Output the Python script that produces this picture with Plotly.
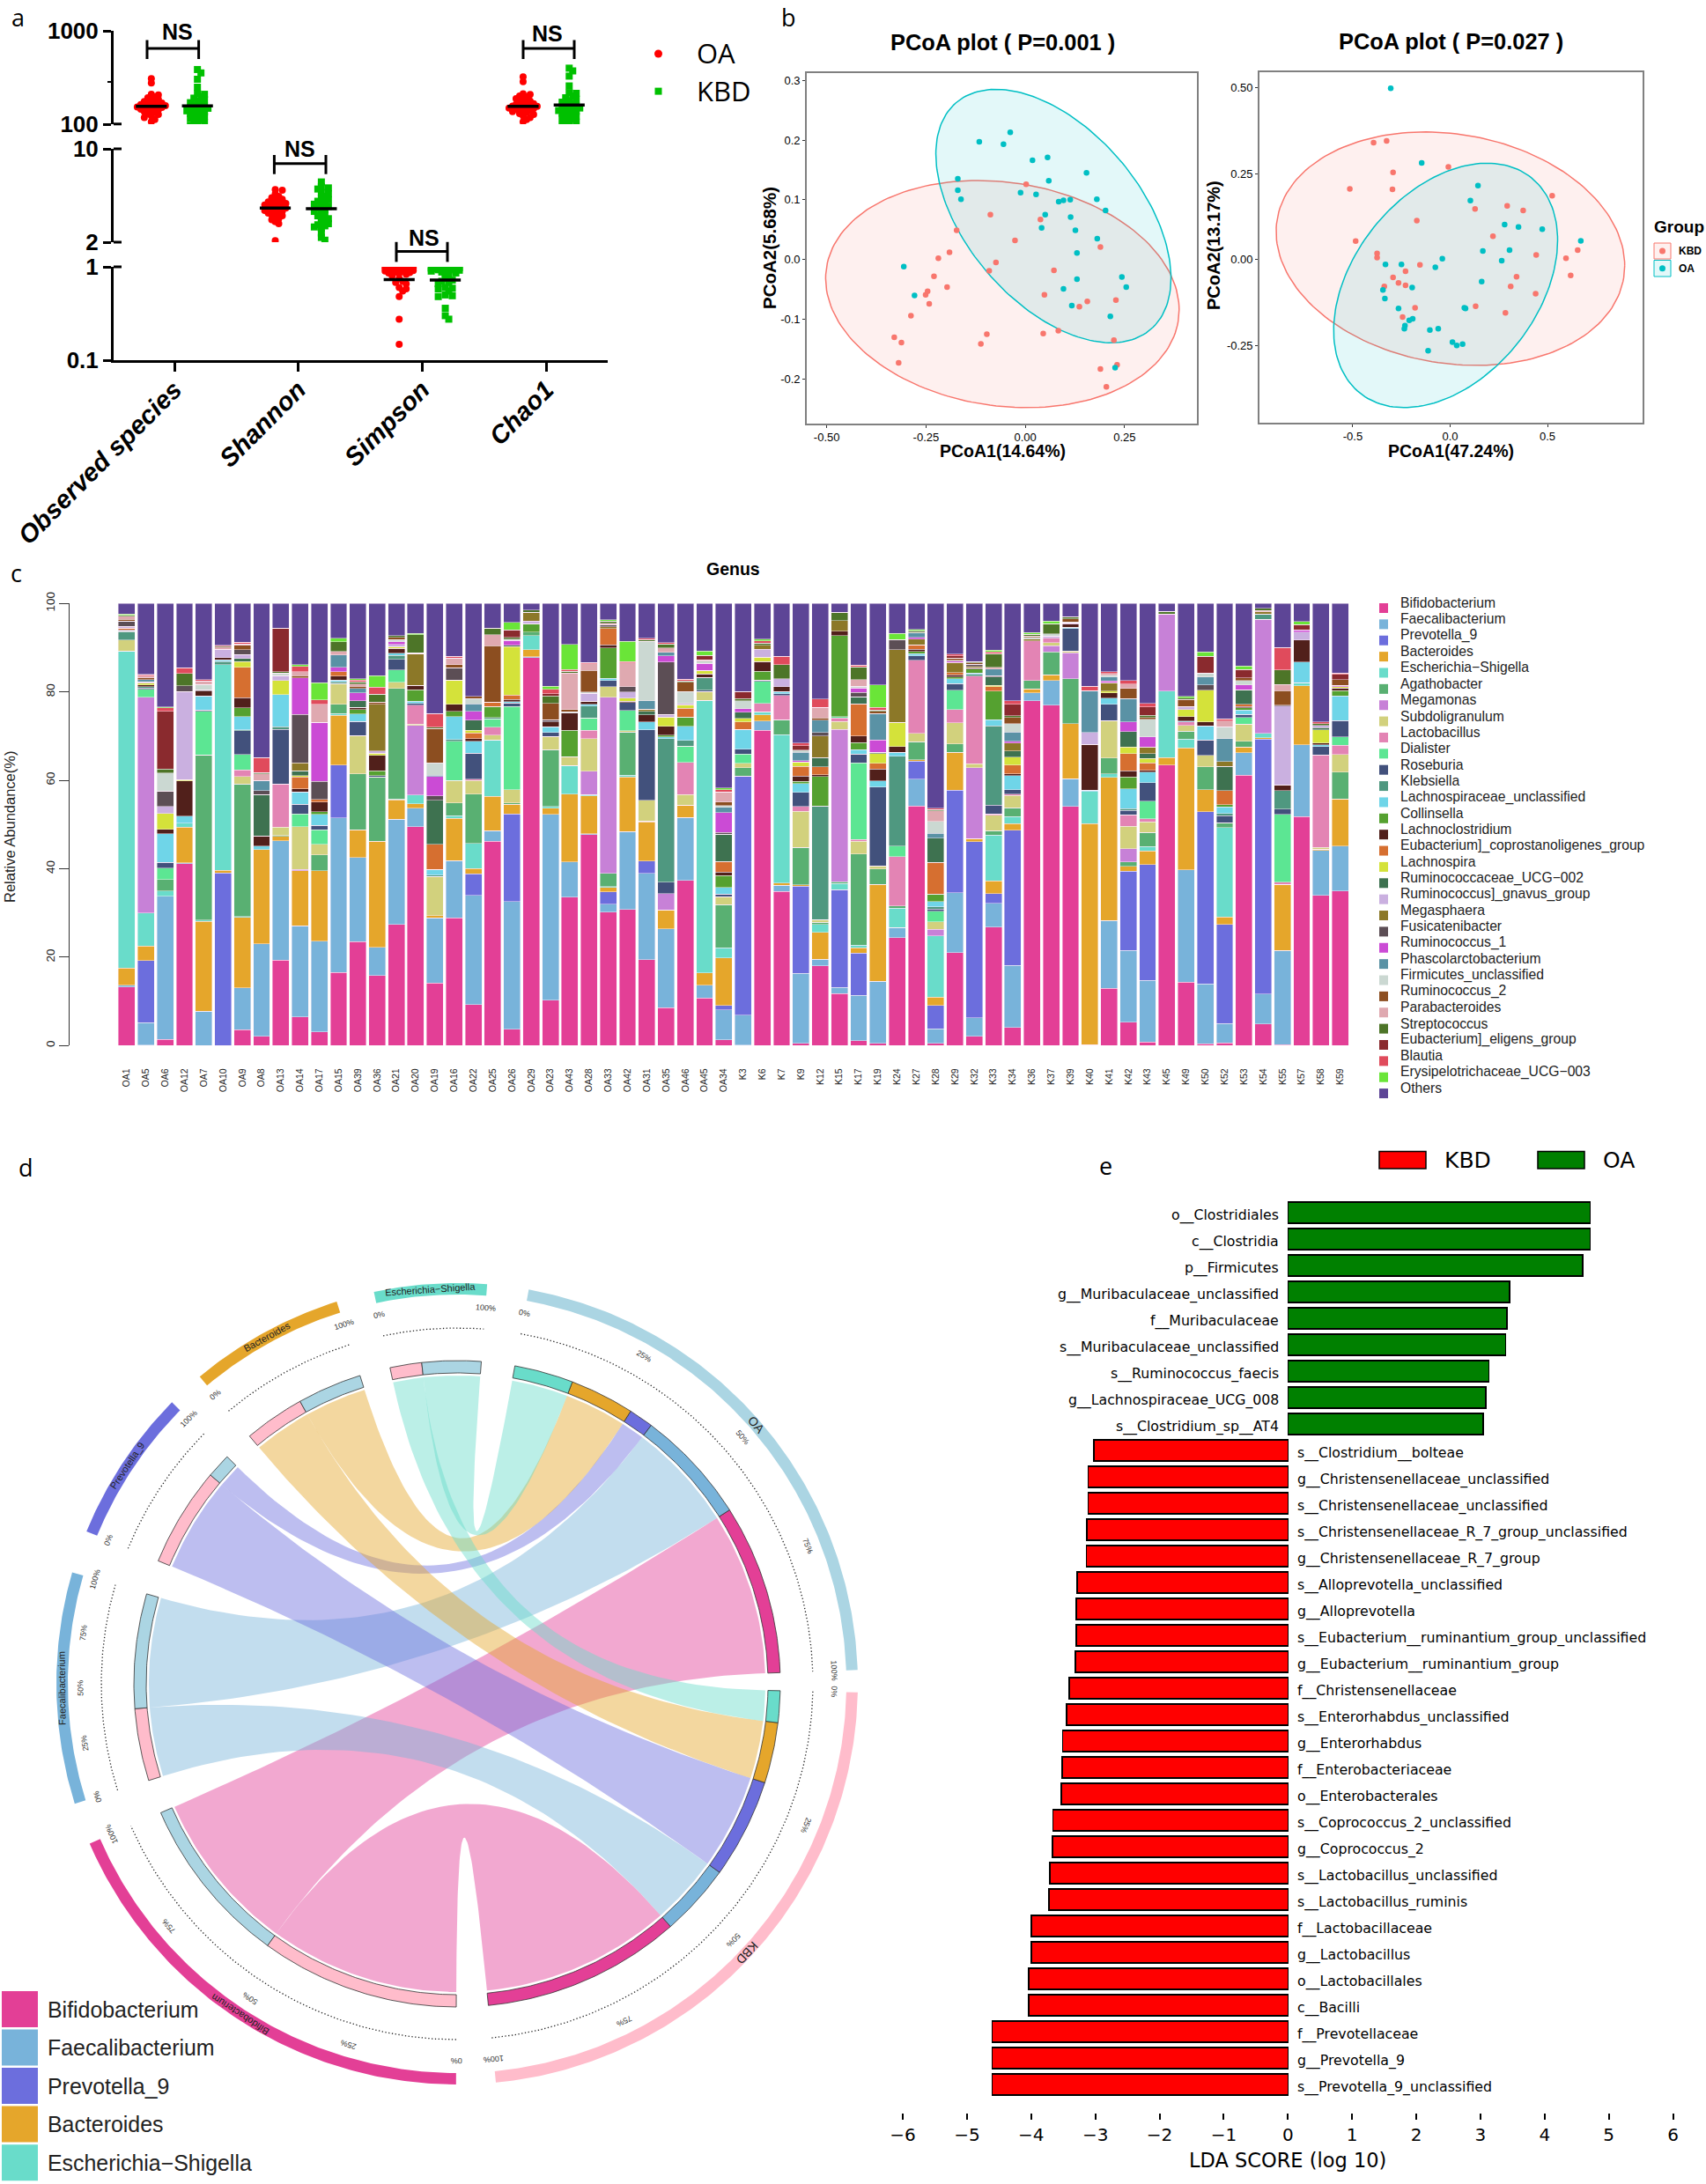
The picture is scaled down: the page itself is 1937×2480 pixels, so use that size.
import numpy as np
import plotly.graph_objects as go

W, H = 1937, 2480
SANS = "Liberation Sans"
DEJA = "DejaVu Sans"

# ---------- panel a values ----------
ALPHA_CATS = ["Observed species", "Shannon", "Simpson", "Chao1"]
OA_OBS = [308,276,209,206,196,192,185,180,175,172,168,165,162,160,158,156,155,153,151,149,147,145,142,139,136,133,130,127,123,118,112,106]
KBD_OBS = [385,354,303,249,213,209,197,190,183,176,170,165,160,156,153,150,148,145,142,139,136,133,130,127,124,121,118,115,112,108,104,100,97]
OA_SHA = [4.95,4.9,4.6,4.4,4.3,4.2,4.1,4.0,3.95,3.9,3.85,3.8,3.75,3.7,3.65,3.6,3.55,3.5,3.45,3.4,3.35,3.3,3.25,3.2,3.15,3.1,3.0,2.95,2.85,2.75,2.05]
KBD_SHA = [5.65,5.2,5.1,5.0,4.7,4.6,4.4,4.25,4.15,4.05,3.95,3.85,3.8,3.7,3.6,3.5,3.4,3.35,3.25,3.15,3.05,3.0,2.9,2.8,2.75,2.7,2.65,2.6,2.55,2.34,2.17,2.07]
OA_SIM = [.99,.98,.98,.97,.97,.96,.96,.95,.95,.94,.93,.92,.91,.9,.89,.88,.87,.86,.85,.83,.8,.75,.7,.68,.66,.6,.58,.55,.48,.275,.148]
KBD_SIM = [.99,.99,.98,.98,.97,.97,.96,.96,.95,.95,.94,.93,.92,.91,.9,.88,.86,.84,.8,.75,.72,.7,.68,.66,.6,.59,.58,.55,.5,.49,.48,.36,.3,.275]
OA_CHA = [322,285,212,208,200,195,188,182,177,173,169,166,163,160,158,156,155,153,151,149,147,145,142,139,136,133,130,127,123,118,112,106]
KBD_CHA = [398,372,327,257,218,214,200,192,185,178,172,167,162,158,155,152,149,146,143,140,137,134,131,128,125,122,119,116,113,109,105,101,98]
MID_OA = [155, 3.6, 0.73, 155]
MID_KBD = [157, 3.56, 0.72, 160]

# ---------- panel b values ----------
L_OA_X = [-.306,-.279,-.170,-.170,-.162,-.116,-.055,-.038,-.012,.018,.027,.056,.059,.084,.096,.113,.154,.180,.202,.050,.114,.041,.126,.181,.130,.243,.254,.130,.096,.117,.214,.226]
L_OA_Y = [-.012,-.060,.135,.116,.101,.197,.193,.213,.112,.166,.109,.171,.132,.097,.099,.100,.145,.101,.082,.075,.071,.053,.049,.035,.011,-.029,-.046,-.033,-.049,-.077,-.095,-.181]
L_KBD_X = [-.088,-.173,-.026,-.191,-.219,-.074,-.091,-.230,-.197,-.251,-.246,-.242,-.288,-.330,-.312,-.319,-.097,-.112,.045,.083,.072,.048,.156,.136,.228,.189,.002,.038,.223,.231,.189,.204]
L_KBD_Y = [.075,.049,.032,.012,.002,-.005,-.019,-.028,-.046,-.059,-.053,-.074,-.094,-.130,-.139,-.173,-.125,-.141,-.124,-.119,-.018,-.059,-.070,-.079,-.068,.021,.126,.067,-.135,-.176,-.183,-.213]
R_OA_X = [-.305,-.146,.143,.104,.280,.351,.473,.671,.168,.305,.265,-.040,-.076,-.250,-.332,.162,-.195,-.345,-.335,-.265,.079,.073,-.192,-.210,-.232,-.235,-.104,-.061,.012,.034,.064,-.113]
R_OA_Y = [.499,.282,.216,.172,.102,.095,.089,.055,.025,.028,-.003,.003,-.022,-.014,-.014,-.064,-.081,-.088,-.113,-.142,-.142,-.140,-.172,-.177,-.192,-.201,-.205,-.201,-.240,-.250,-.246,-.265]
R_KBD_X = [-.393,-.326,-.009,-.293,-.515,-.296,.524,.293,.128,.375,-.171,.220,-.485,-.375,-.375,.442,.655,.595,-.155,-.229,.619,-.293,.341,-.265,-.229,-.338,.311,.439,-.180,.131,.284,-.244]
R_KBD_Y = [.341,.346,.270,.254,.206,.205,.186,.157,.148,.143,.114,.068,.054,.018,.006,.014,.028,.004,-.015,-.034,-.046,-.052,-.050,-.068,-.075,-.078,-.078,-.099,-.140,-.136,-.155,-.167]
# centre x, centre y, half width, half height, correlation
L_OA_ELL = (0.0707, 0.0728, 0.296, 0.212, -0.49)
L_KBD_ELL = (-0.0578, -0.0578, 0.445, 0.190, -0.138)
R_OA_ELL = (-0.023, -0.075, 0.575, 0.356, 0.37)
R_KBD_ELL = (0.0015, 0.032, 0.895, 0.340, -0.145)

# ---------- panel c values ----------
GENUS = ["Bifidobacterium","Faecalibacterium","Prevotella_9","Bacteroides","Escherichia−Shigella","Agathobacter","Megamonas","Subdoligranulum","Lactobacillus","Dialister","Roseburia","Klebsiella","Lachnospiraceae_unclassified","Collinsella","Lachnoclostridium","Eubacterium]_coprostanoligenes_group","Lachnospira","Ruminococcaceae_UCG−002","Ruminococcus]_gnavus_group","Megasphaera","Fusicatenibacter","Ruminococcus_1","Phascolarctobacterium","Firmicutes_unclassified","Ruminococcus_2","Parabacteroides","Streptococcus","Eubacterium]_eligens_group","Blautia","Erysipelotrichaceae_UCG−003","Others"]
GENUS_COLORS = ["#E33F96","#78B3DA","#6C6EDD","#E5A62B","#69DCCA","#59B072","#C781D7","#D2D17D","#E384B4","#5CE693","#42517C","#4F9880","#6FD5E8","#55A130","#51201B","#D66F30","#D4E23A","#3E7250","#CAB0E0","#8C7828","#5C4E55","#CB4BD5","#5A92A5","#CBD8D2","#8C4E20","#DFA9B0","#4D7528","#8A2A2E","#E04B5C","#6AE538","#5D4596"]
SAMPLES = ["OA1","OA5","OA6","OA12","OA7","OA10","OA9","OA8","OA13","OA14","OA17","OA15","OA39","OA36","OA21","OA20","OA19","OA16","OA22","OA25","OA26","OA29","OA23","OA43","OA28","OA33","OA42","OA31","OA35","OA46","OA45","OA34","K3","K6","K7","K9","K12","K15","K17","K19","K24","K27","K28","K29","K32","K33","K34","K36","K37","K39","K40","K41","K42","K43","K45","K49","K50","K52","K53","K54","K55","K57","K58","K59"]
OA1={0:13.3,1:.4,3:3.8,4:71.8,7:2.4,11:1.9,12:.2,15:.4,14:.2,20:1.2,18:.4,25:.7,24:.4,26:.2,29:.3}
OA5={0:.1,1:5.1,2:14,3:3.3,4:7.5,6:48.8,9:1.8,11:.3,10:.3,14:.4,16:.4,18:.3,22:.5,24:.4,25:.4,28:.3,29:.1}
OA6={0:1.4,1:32.4,4:1.2,5:2.6,9:2.6,10:1.2,12:6.5,14:1,16:3.6,18:1.6,20:3.5,23:4.1,26:.9,27:13,28:.8,29:.2}
OA12={0:41.1,1:.2,3:8.1,4:.9,12:1.6,14:8,16:.3,18:19.9,20:1.3,26:2.8,28:1.3}
OA7={1:7.8,3:20.3,4:.3,5:37.3,9:9.9,10:.3,12:3.2,14:1.1,20:.3,23:1.2,25:.8,28:.3}
OA10={1:.05,2:39,3:.6,4:46.5,11:.7,12:.4,14:.5,18:1.9,25:.5,26:.2,28:.2}
OA9={0:3.6,1:9.5,3:15.9,4:.2,5:30,7:1.7,8:1.5,9:3.4,10:5.4,11:.2,12:3,13:2,14:2.3,15:6.9,16:1.3,17:.7,18:.9,20:1.1,24:.9,25:.3,28:.4}
OA8={0:2.1,1:20.9,3:21.3,12:.8,14:2.3,17:9.4,20:.9,22:2.3,25:1.5,26:.3,28:3.3}
OA13={0:19.3,1:27,3:1,5:.2,7:1.9,8:9.8,10:12.3,11:.6,12:7.3,16:3.2,18:1.1,23:.6,27:9.8,26:.3}
OA14={0:6.5,1:20.6,3:12.5,6:.3,7:9.6,9:2.9,10:2.2,12:2.8,14:.7,15:2.7,16:.3,17:1.1,19:1.8,20:10.9,21:8.3,25:.9,24:.5,28:1.2,29:.4}
OA17={0:3.1,1:20.5,3:16,5:3.5,7:2.4,9:3.3,10:1,12:2.5,13:.6,14:2.2,15:.6,20:4.1,21:13.3,25:4.1,28:1,29:3.9}
OA15={0:16.5,1:35,2:12,3:11.2,4:.4,5:2.1,7:4.7,14:.9,12:.4,11:.4,15:1,21:1,22:2.8,25:.8,26:2.1,29:.8}
OA39={0:23.5,1:19,3:6.3,5:12.7,7:8.6,10:3.2,12:1.7,13:1,14:.5,17:1.5,21:1.8,22:1,24:.5,25:.5,26:.5,28:.4,29:.3}
OA36={0:15.8,1:6.4,3:24,5:14.6,10:.3,13:1.1,14:3.4,16:.5,18:.5,19:10.6,24:.5,26:1.8,28:1.6,29:2.6}
OA21={0:27.4,1:23.8,3:4.4,4:.2,5:25,7:1.4,9:2.8,10:2.4,11:.9,12:.5,14:1,16:.4,18:.5,21:.6,23:.5,26:.4,24:.5}
OA20={0:49.5,1:4.2,3:1,4:2,6:15.7,7:.3,8:4.3,12:.5,10:.4,13:2.6,14:1,19:7.2,23:.2,26:4,29:.3}
OA19={0:14.2,1:14.7,3:.5,7:8.9,11:.3,12:1.3,15:5.6,17:10,20:1,21:4.4,22:.3,23:2.8,24:7.7,26:.3,28:3.1}
OA16={0:28.9,1:12.9,3:9.6,4:.6,5:2.9,7:5.1,9:8.8,11:.4,12:5.2,13:1.2,14:1.6,16:5.5,20:2.8,24:.7,25:1.5,28:.4}
OA22={0:9.3,1:24.7,2:4.9,3:1.2,4:5.6,5:11.2,7:3.1,8:.3,10:5.8,12:2.7,14:.6,15:1.3,16:.6,17:2.3,21:2,22:1.7,23:1.2,24:.5}
OA25={0:46.2,1:2.4,3:7.8,4:12.7,7:1.1,8:1.8,9:1.9,13:2.5,15:1,24:12.7,25:2.5,26:1.5,11:.3}
OA26={0:3.7,1:28.9,2:19.8,3:2.2,5:.3,7:3,9:18.8,10:.8,12:.3,14:.5,15:1,16:10.9,17:.3,21:1.1,23:.3,27:1.7,26:.4,29:1.7}
OA29={0:87.8,1:.2,3:1.6,4:3.1,5:.8,13:1.9,19:2,18:.6,26:.5}
OA23={0:10.3,1:42,3:1.4,4:.4,5:12.8,7:3,10:.9,12:1.3,14:1.1,20:.5,24:3.7,26:1.7,27:.5,28:1,29:.7}
OA43={0:33.6,1:7.9,3:15.4,4:6.5,7:1.9,13:6,14:3.9,23:.3,24:.5,25:8.3,26:.4,28:.4,29:5.6}
OA28={0:47.7,1:.2,3:8.6,4:.3,6:5.3,7:7.3,8:1.9,9:2.8,11:2.7,12:.4,14:.7,18:1.8,23:.3,24:4.9,25:1.5,28:.3}
OA33={0:30.2,1:1.8,2:2.8,3:1,4:.2,5:3,6:39.8,7:2.4,10:1.4,12:.5,13:6.8,14:.7,15:3.7,19:.4,20:.5,25:.3,26:.5,29:.3}
OA42={0:30.8,1:17.6,3:12.4,4:.4,5:9.7,7:.3,9:4.6,10:1.8,14:.3,16:.7,18:1.4,20:1.2,25:5.4,28:.3,29:4.5}
OA31={0:19.4,1:19.6,2:2.7,3:8.9,4:.2,7:4.7,10:15.9,12:1.8,14:1.6,17:.8,19:.5,22:1.9,23:13.4,26:.4,28:.3}
OA35={0:8.6,1:17.8,3:4.3,6:3.7,10:2.6,11:32.4,12:.4,13:.4,14:2,16:2.1,18:.6,20:11.9,21:1.4,22:.8,25:.9,26:.9,28:.3}
OA46={0:37.4,1:14.2,3:2.8,7:2.4,8:7.3,9:3.6,11:1.3,12:3.2,13:2.1,15:2,16:.8,18:.3,23:2.7,24:2.1,26:.3,28:.4}
OA45={0:10.8,1:2.9,3:2.7,4:61.7,7:2,10:.3,11:2.9,14:.8,16:.8,21:1.6,23:.5,25:.3,27:1,29:1}
OA34={0:1.3,1:6.8,2:1,3:10.7,4:2.3,5:9.8,7:1.8,10:.6,12:1.5,13:2.7,14:.8,15:2.3,17:6.2,20:.4,21:4.5,22:1.2,23:.4,24:.8,25:2.3,28:.5,29:.4}
K3={0:.1,1:6.8,2:54.1,5:1.9,7:1,9:2,10:1.1,12:4.5,15:1.7,16:.8,17:1.4,21:.8,23:1.8,27:1.6,26:.5}
K6={0:71.3,1:2.1,3:1.4,4:.7,8:1.9,9:5,10:.3,13:2,14:2.2,16:1,18:1.8,19:.8,26:.5,28:.5,29:.4}
K7={0:34.9,1:1.4,3:.5,4:33.5,5:3.4,8:5.5,10:.4,12:.5,14:1.1,18:1.8,26:3.2,28:1.9}
K9={0:.5,1:15.8,2:19.8,3:.3,5:8.4,7:8.2,8:1.1,10:3.2,12:2,13:.5,14:1.2,15:2.2,16:1,21:.3,22:1.8,23:.5,27:1,28:.6}
K12={0:18,1:1.5,3:6.1,4:1.8,5:.5,7:.6,11:25.7,13:6.7,14:.4,15:1.8,17:2,19:4.9,20:.8,22:2.8,24:.5,25:2.4,28:1.9}
K15={0:11.8,1:1.4,2:22.1,4:1.4,5:.4,6:34.4,7:1.8,8:.8,9:.3,13:18.3,14:1,19:2.4,26:1.9}
K17={0:1.1,1:10.3,2:9.5,3:1.2,4:.6,5:20.6,7:2.9,8:.4,9:17.4,10:1.9,12:1,13:1.6,14:1.5,15:7.3,17:1.6,20:1,21:1,23:.4,25:1.5,26:2.9,28:.4}
K19={0:.5,1:14.1,3:21.9,5:3.5,7:.6,10:17.9,12:1.4,14:2.7,15:1.3,16:2.1,17:.3,21:2.8,22:6,24:.5,26:.3,28:.6,29:5.1}
K24={0:24.4,1:2.3,4:4.4,5:.5,8:11.1,9:2.4,11:20.3,12:.9,14:1.3,16:5.5,19:16.5,20:2.2,29:1.4}
K27={0:54.2,1:6.1,2:4.1,3:.3,5:4,7:1.9,8:16.6,10:1,12:.5,13:.5,14:.5,15:.9,19:1.3,21:.4,22:1.1,26:.4,29:.3}
K28={0:.5,1:3.3,2:5.3,3:1.9,4:13.8,6:1.5,7:1.7,9:2.4,10:.5,11:.5,12:1.2,13:1.7,15:7.1,17:5.5,22:1.1,23:2.7,25:2.4,26:.3,28:.3}
K29={0:21,1:13.6,2:23.2,3:8.5,5:1.9,7:4.8,8:3,9:4.4,10:1.5,12:1.1,13:.4,14:.5,15:.5,19:2.3,21:.3,23:.2,24:.5,27:.5,28:.4}
K32={0:2.1,1:4.2,2:39.8,3:.7,6:16.1,7:.9,8:19.8,11:.4,12:.3,13:.9,14:.3,19:.3,20:.5,24:.3,26:.3}
K33={0:26.8,1:5.4,2:2.2,3:2.9,4:10.3,5:1,7:3.5,8:.3,10:2,11:17.9,12:1.4,13:6.5,15:1,16:.3,17:1.9,20:.3,22:1.5,25:.4,26:3.1,28:.4,29:.4}
K34={0:4.1,1:14,2:30.6,3:1.5,4:1.6,5:2,7:2.8,8:.3,10:1,12:3.2,14:.4,15:2,16:1.7,17:1.4,19:1.8,21:.4,22:2.1,23:1.9,24:1.4,26:.4,27:2.6,28:.8}
K36={0:78,1:1.8,3:.9,5:1.9,8:8.9,23:.4,24:.3,19:.4,26:.4,29:.4}
K37={0:77,1:5.6,3:1.3,5:5.2,6:1.3,7:.7,8:1,18:.5,23:.5,26:2.3,29:.6}
K39={0:54.1,1:6.3,3:12.4,5:10.2,6:5.9,7:.4,10:5,12:.3,14:.7,18:.3,23:.2,24:.7,26:.5}
K40={0:.2,3:50,4:7.3,12:.3,14:10.3,18:2.7,22:9.5,28:1}
K41={0:13,1:15.3,3:32.4,4:.8,5:3.5,7:8.5,10:3.7,12:1.4,14:1.2,16:.4,19:1.9,21:.4,22:.9,23:.4,25:.4,28:.4}
K42={0:5.3,1:16.2,2:18,3:1,5:1,6:3,7:5.1,8:2.6,10:1,11:.4,12:4.5,13:2.7,14:1.4,15:3.8,16:1.5,17:3.5,21:2.2,22:5.3,24:2.3,25:1,28:.8}
K43={0:.8,1:14,2:26.1,3:3.1,4:1,5:3.2,7:2.4,8:.7,9:4,10:4.2,12:2.4,14:.4,15:1.7,16:.9,17:1.1,19:1.5,21:2.3,23:4,24:.4,26:.5,27:1.9,28:.8}
K45={0:63.5,3:1.6,4:15.1,6:17.4,26:.6}
K49={0:14.4,1:25.4,3:27.5,4:2,5:1.8,7:1.3,8:.8,12:.2,14:1,16:1.6,18:.7,24:1.6,26:.3,29:.4}
K50={0:.4,1:13.6,2:38.9,3:5,5:5.2,7:2.5,10:3.5,12:3.2,14:.9,16:7.2,20:1.2,22:1.8,23:.9,27:3.8,29:1}
K52={0:.6,1:4.4,2:22.4,3:1.7,4:20.2,5:1.1,10:1.6,11:.5,12:1.5,13:.5,15:3.2,17:5.5,19:1.1,22:5.1,23:2.7,25:1.3,28:.5}
K53={0:61.2,1:5,3:1.3,5:1.3,7:3.9,9:1.5,10:.7,12:1,13:.5,14:.3,15:.5,17:3.3,21:1.1,23:1,24:.6,27:1.9,29:.8}
K54={0:4.9,1:6.8,2:57.6,3:.3,4:1,6:25.8,25:.3,11:1.2,19:.5,26:.5}
K55={0:.2,1:21.3,3:15,8:.5,9:15.3,10:1.2,11:4.2,14:1.3,18:17.8,20:.2,24:3.3,25:1.4,26:3.3,28:5}
K57={0:51.8,1:16.2,3:13.4,4:.7,12:4.7,14:4.9,18:1.8,21:.5,27:1.2,29:.7}
K58={0:34,1:10.1,3:.3,7:.4,8:20.9,10:1.9,12:.4,14:.4,16:3,18:.5,17:.5,28:.4,26:.4}
K59={0:35,1:10.1,3:10.7,5:6.1,7:3.9,8:2.1,9:1.9,10:3.7,12:5.6,13:1.2,14:.6,16:.3,21:.3,24:1.3,27:1.2,28:.3}
SAMPLE_ROWS = [OA1,OA5,OA6,OA12,OA7,OA10,OA9,OA8,OA13,OA14,OA17,OA15,OA39,OA36,OA21,OA20,OA19,OA16,OA22,OA25,OA26,OA29,OA23,OA43,OA28,OA33,OA42,OA31,OA35,OA46,OA45,OA34,K3,K6,K7,K9,K12,K15,K17,K19,K24,K27,K28,K29,K32,K33,K34,K36,K37,K39,K40,K41,K42,K43,K45,K49,K50,K52,K53,K54,K55,K57,K58,K59]

# ---------- panel d values ----------
TOP5 = ["Bifidobacterium","Faecalibacterium","Prevotella_9","Bacteroides","Escherichia−Shigella"]
TOP5_COLORS = ["#E33F96","#78B3DA","#6C6EDD","#E5A62B","#69DCCA"]
CHORD_OA = [30.6, 20.6, 4.4, 11.6, 10.6]
CHORD_KBD = [35.8, 13.0, 17.9, 10.9, 5.7]
OA_RING, KBD_RING = "#ABD5E3", "#FFBCCB"

# ---------- panel e values ----------
LDA_NAMES = ["o__Clostridiales","c__Clostridia","p__Firmicutes","g__Muribaculaceae_unclassified","f__Muribaculaceae","s__Muribaculaceae_unclassified","s__Ruminococcus_faecis","g__Lachnospiraceae_UCG_008","s__Clostridium_sp__AT4","s__Clostridium__bolteae","g__Christensenellaceae_unclassified","s__Christensenellaceae_unclassified","s__Christensenellaceae_R_7_group_unclassified","g__Christensenellaceae_R_7_group","s__Alloprevotella_unclassified","g__Alloprevotella","s__Eubacterium__ruminantium_group_unclassified","g__Eubacterium__ruminantium_group","f__Christensenellaceae","s__Enterorhabdus_unclassified","g__Enterorhabdus","f__Enterobacteriaceae","o__Enterobacterales","s__Coprococcus_2_unclassified","g__Coprococcus_2","s__Lactobacillus_unclassified","s__Lactobacillus_ruminis","f__Lactobacillaceae","g__Lactobacillus","o__Lactobacillales","c__Bacilli","f__Prevotellaceae","g__Prevotella_9","s__Prevotella_9_unclassified"]
LDA_SCORE = [4.71,4.71,4.59,3.45,3.41,3.39,3.13,3.08,3.04,-3.02,-3.11,-3.11,-3.13,-3.14,-3.28,-3.30,-3.30,-3.31,-3.41,-3.45,-3.51,-3.52,-3.53,-3.66,-3.67,-3.71,-3.72,-4.0,-4.0,-4.04,-4.04,-4.61,-4.61,-4.61]

# ---------- helpers ----------
def xd(a, b): return [a / W, b / W]
def yd(a, b): return [1 - b / H, 1 - a / H]
def px(x): return x / W
def py(y): return 1 - y / H

fig = go.Figure()
shapes, notes = [], []

def note(x, y, text, size, family=SANS, color="#000", angle=0, xanchor="center", yanchor="middle", **kw):
    d = dict(x=px(x), y=py(y), xref="paper", yref="paper", text=text, showarrow=False,
             font=dict(size=size, family=family, color=color), textangle=angle,
             xanchor=xanchor, yanchor=yanchor, borderpad=0, borderwidth=0)
    d.update(kw)
    notes.append(d)

def seg(x0, y0, x1, y1, color="#000", width=3):
    shapes.append(dict(type="line", xref="paper", yref="paper", x0=px(x0), y0=py(y0), x1=px(x1), y1=py(y1),
                       line=dict(color=color, width=width)))

def rect(x0, y0, x1, y1, fill, color=None, width=0):
    shapes.append(dict(type="rect", xref="paper", yref="paper", x0=px(x0), y0=py(y0), x1=px(x1), y1=py(y1),
                       fillcolor=fill, line=dict(color=color or fill, width=width)))

def circ(cx, cy, r, fill):
    shapes.append(dict(type="circle", xref="paper", yref="paper", x0=px(cx - r), y0=py(cy - r), x1=px(cx + r), y1=py(cy + r),
                       fillcolor=fill, line=dict(color=fill, width=0)))

# ---------- panel a ----------
PX_PER_DEC = 106.0
def swarm(vals, spread=141.0, scale=PX_PER_DEC):
    placed = []
    off = []
    for v in sorted(vals, reverse=True):
        yy = np.log10(v) * scale
        best, worst = None, -1
        for k in range(0, 5):
            for s in (1, -1):
                c = s * k * 4.0
                gap = min([(c - a) ** 2 + (yy - b) ** 2 for a, b in placed] or [1e9])
                if gap >= 20:
                    best = c
                    break
                if gap > worst:
                    worst, fallback = gap, c
            if best is not None:
                break
        if best is None:
            best = fallback
        placed.append((best, yy))
        off.append(best / spread)
    return sorted(vals, reverse=True), off

panel_a = [(0, OA_OBS, KBD_OBS, "y3"), (1, OA_SHA, KBD_SHA, "y2"), (2, OA_SIM, KBD_SIM, "y"), (3, OA_CHA, KBD_CHA, "y3")]
for pos, oa, kbd, ax in panel_a:
    scale = 152.0 if ax == "y2" else PX_PER_DEC
    for vals, mid, shift, col, sym in ((oa, MID_OA[pos], -0.186, "#FF0000", "circle"), (kbd, MID_KBD[pos], 0.186, "#00C000", "square")):
        ys, offs = swarm(vals, scale=scale)
        fig.add_trace(go.Scatter(x=[pos + shift + o for o in offs], y=ys, mode="markers", xaxis="x", yaxis=ax,
                                 marker=dict(symbol=sym, color=col, size=8, line=dict(width=0)), showlegend=False))
        fig.add_trace(go.Scatter(x=[pos + shift - 0.125, pos + shift + 0.125], y=[mid, mid], mode="lines", xaxis="x", yaxis=ax,
                                 line=dict(color="#000", width=3.5), showlegend=False))

for (x0, x1, ym, yt, yb, tx, ty) in ((167, 225.6, 55, 45.5, 67, 201, 36), (311.4, 370, 185.8, 176, 197.7, 340.6, 169),
                                    (450, 508, 285.5, 274.8, 297.4, 481.5, 270), (594, 652, 55, 45.5, 67, 621, 37.6)):
    seg(x0, ym, x1, ym); seg(x0, yt, x0, yb); seg(x1, yt, x1, yb)
    note(tx, ty, "<b>NS</b>", 25)
for yy in (140.8, 169, 275, 303):
    seg(129, yy, 138, yy)
seg(122, 93, 129, 93, width=2)
circ(747.5, 61, 4.5, "#FF0000")
rect(743.5, 99.6, 751.5, 107.6, "#00C000")
note(791, 60, "OA", 31, "Open Sans", xanchor="left")
note(791, 103, "KBD", 31, "Open Sans", xanchor="left")

# ---------- panel b ----------
T = np.linspace(0, 2 * np.pi, 181)
def ell(par):
    cx, cy, a, b, rho = par
    phi = np.arccos(rho)
    return cx + a * np.cos(T), cy + b * np.cos(T + phi)

C_KBD, C_OA = "#F8766D", "#00BFC4"
F_KBD, F_OA = "rgba(248,118,109,0.11)", "rgba(0,191,196,0.11)"
for xa, ya, kx, ky, ox, oy, ek, eo in (("x2", "y4", L_KBD_X, L_KBD_Y, L_OA_X, L_OA_Y, L_KBD_ELL, L_OA_ELL),
                                       ("x3", "y5", R_KBD_X, R_KBD_Y, R_OA_X, R_OA_Y, R_KBD_ELL, R_OA_ELL)):
    for par, f, c in ((ek, F_KBD, C_KBD), (eo, F_OA, C_OA)):
        ex, ey = ell(par)
        fig.add_trace(go.Scatter(x=ex, y=ey, mode="lines", fill="toself", fillcolor=f, line=dict(color=c, width=1.5),
                                 xaxis=xa, yaxis=ya, showlegend=False))
    fig.add_trace(go.Scatter(x=kx, y=ky, mode="markers", marker=dict(color=C_KBD, size=6.5), xaxis=xa, yaxis=ya, showlegend=False))
    fig.add_trace(go.Scatter(x=ox, y=oy, mode="markers", marker=dict(color=C_OA, size=6.5), xaxis=xa, yaxis=ya, showlegend=False))

note(1138, 47.5, "<b>PCoA plot ( P=0.001 )</b>", 25.4)
note(1647, 46.5, "<b>PCoA plot ( P=0.027 )</b>", 25.4)
note(1138, 512, "<b>PCoA1(14.64%)</b>", 19.5)
note(1647, 512, "<b>PCoA1(47.24%)</b>", 19.5)
note(873, 282, "<b>PCoA2(5.68%)</b>", 20.5, angle=-90)
note(1378, 279, "<b>PCoA2(13.17%)</b>", 20, angle=-90)
note(1878, 257, "<b>Group</b>", 19, xanchor="left")
rect(1878, 276, 1897, 294, "rgba(248,118,109,0.11)", C_KBD, 1)
rect(1878, 295.5, 1897, 314, "rgba(0,191,196,0.11)", C_OA, 1)
circ(1887.5, 285, 3.5, C_KBD)
circ(1887.5, 304.7, 3.5, C_OA)
note(1906, 285, "<b>KBD</b>", 12, xanchor="left")
note(1906, 304.7, "<b>OA</b>", 12, xanchor="left")

# ---------- panel c ----------
rows = []
for r in SAMPLE_ROWS:
    v = [r.get(i, 0.0) for i in range(30)]
    v.append(max(0.0, 100 - sum(v)))
    rows.append(v)
rows = np.array(rows)
for i, (g, c) in enumerate(zip(GENUS, GENUS_COLORS)):
    fig.add_trace(go.Bar(x=SAMPLES, y=rows[:, i], width=0.865, marker=dict(color=c, line=dict(color="rgba(255,240,250,0.75)", width=0.6)),
                         xaxis="x4", yaxis="y6", showlegend=False, name=g))
    yy = 690.5 + i * 18.37
    rect(1566, yy - 5.5, 1576, yy + 5.5, c)
    note(1590, yy - 6, g, 15.7, color="#222", xanchor="left")
note(832.5, 646, "<b>Genus</b>", 19.5)
note(11, 939, "Relative Abundance(%)", 16.5, angle=-90, color="#222")

# ---------- panel d ----------
def P(theta, r):
    t = np.radians(theta)
    return r * np.sin(t), r * np.cos(t)

GAPS = [3.2, 5.7, 6.1, 6.2, 5.4, 5.5, 6.0]
groups_total = sum(CHORD_OA) + sum(CHORD_KBD)
unit = (360 - sum(GAPS)) / (2 * groups_total)
a = 10.3
spans = {}
sector_order = [("OA", sum(CHORD_OA), OA_RING), ("KBD", sum(CHORD_KBD), KBD_RING)] + \
               [(n, CHORD_OA[i] + CHORD_KBD[i], TOP5_COLORS[i]) for i, n in enumerate(TOP5)]
for (name, val, col), g in zip(sector_order, GAPS):
    spans[name] = (a, a + val * unit, col)
    a += val * unit + g

def poly(xs, ys, fill, line=None, lw=0):
    fig.add_trace(go.Scatter(x=xs, y=ys, mode="lines", fill="toself", fillcolor=fill,
                             line=dict(color=line or "rgba(0,0,0,0)", width=lw), xaxis="x5", yaxis="y7", showlegend=False, hoverinfo="skip"))

def band(t0, t1, r0, r1, fill, line=None, lw=0):
    th = np.linspace(t0, t1, max(8, int(abs(t1 - t0) * 2)))
    x0, y0 = P(th, r1)
    x1, y1 = P(th[::-1], r0)
    poly(np.r_[x0, x1, x0[0]], np.r_[y0, y1, y0[0]], fill, line, lw)

def bez(th0, th1, r):
    s = np.linspace(0, 1, 60)
    x0, y0 = P(th0, r); x1, y1 = P(th1, r)
    return (1 - s) ** 2 * x0 + s ** 2 * x1, (1 - s) ** 2 * y0 + s ** 2 * y1

def ribbon(a1, a2, b1, b2, fill):
    r = 350
    ta = np.linspace(a1, a2, 30); tb = np.linspace(b1, b2, 30)
    xa, ya = P(ta, r); xb, yb = P(tb, r)
    x1, y1 = bez(a2, b1, r)
    x2, y2 = bez(b2, a1, r)
    poly(np.r_[xa, x1, xb, x2], np.r_[ya, y1, yb, y2], fill)

def rgba(h, al):
    return f"rgba({int(h[1:3],16)},{int(h[3:5],16)},{int(h[5:7],16)},{al})"

cursor_oa = spans["OA"][0]
cursor_kbd = spans["KBD"][0]
oa_seg, kbd_seg = {}, {}
for i in reversed(range(5)):
    oa_seg[i] = (cursor_oa, cursor_oa + CHORD_OA[i] * unit); cursor_oa += CHORD_OA[i] * unit
    kbd_seg[i] = (cursor_kbd, cursor_kbd + CHORD_KBD[i] * unit); cursor_kbd += CHORD_KBD[i] * unit
gen_kbd, gen_oa = {}, {}
for i, n in enumerate(TOP5):
    s = spans[n][0]
    gen_kbd[i] = (s, s + CHORD_KBD[i] * unit)
    gen_oa[i] = (s + CHORD_KBD[i] * unit, spans[n][1])

for i in range(5):
    ribbon(*oa_seg[i], *gen_oa[i], rgba(TOP5_COLORS[i], 0.45))
    ribbon(*kbd_seg[i], *gen_kbd[i], rgba(TOP5_COLORS[i], 0.45))
for i in range(5):
    band(*oa_seg[i], 353, 367, TOP5_COLORS[i], "#333", 0.8)
    band(*kbd_seg[i], 353, 367, TOP5_COLORS[i], "#333", 0.8)
    band(*gen_kbd[i], 353, 367, KBD_RING, "#333", 0.8)
    band(*gen_oa[i], 353, 367, OA_RING, "#333", 0.8)

def dnote(theta, r, text, size, color="#333"):
    x, y = P(theta, r)
    notes.append(dict(x=float(x), y=float(y), xref="x5", yref="y7", text=text, showarrow=False, textangle=float(theta) if theta < 360 else float(theta - 360),
                      font=dict(size=size, family=SANS, color=color), xanchor="center", yanchor="middle", borderpad=0))

FULL_TICKS = {"OA", "KBD", "Bifidobacterium", "Faecalibacterium"}
for name, (t0, t1, col) in spans.items():
    band(t0, t1, 442, 455, col)
    th = np.linspace(t0, t1, 120)
    dx, dy = P(th, 404)
    fig.add_trace(go.Scatter(x=dx, y=dy, mode="lines", line=dict(color="#222", width=1.3, dash="1.3px,2.5px"), xaxis="x5", yaxis="y7", showlegend=False, hoverinfo="skip"))
    fracs = (0, 25, 50, 75, 100) if name in FULL_TICKS else (0, 100)
    for f in fracs:
        dnote(t0 + (t1 - t0) * f / 100, 428, f"{f}%", 9)
    big = name in ("OA", "KBD")
    dnote((t0 + t1) / 2, 449, name, 14 if big else 11, "#222")

LEG_Y = [2281.5, 2325, 2368.6, 2412, 2455.8]
for yy, n, c in zip(LEG_Y, TOP5, TOP5_COLORS):
    rect(2, yy - 20.5, 43, yy + 20.5, c)
    note(54, yy, n, 24.9, color="#222", xanchor="left")

# ---------- panel e ----------
lda_col = ["#008000" if v > 0 else "#FF0000" for v in LDA_SCORE]
fig.add_trace(go.Bar(y=LDA_NAMES, x=LDA_SCORE, orientation="h", width=0.8, xaxis="x6", yaxis="y8",
                     marker=dict(color=lda_col, line=dict(color="#000", width=1.6)), showlegend=False))
for n, v in zip(LDA_NAMES, LDA_SCORE):
    notes.append(dict(x=-0.12 if v > 0 else 0.115, y=n, xref="x6", yref="y8", text=n, showarrow=False, yshift=-3,
                      xanchor="right" if v > 0 else "left", yanchor="middle",
                      font=dict(size=15.75, family=DEJA, color="#000")))
note(1462, 2453, "LDA SCORE (log 10)", 22.5, DEJA)
rect(1566, 1307.5, 1619, 1327, "#FF0000", "#000", 1.5)
rect(1746, 1307.5, 1799, 1327, "#008000", "#000", 1.5)
note(1640, 1317, "KBD", 25, DEJA, xanchor="left")
note(1820, 1317, "OA", 25, DEJA, xanchor="left")

# panel letters
for t, x, y in (("a", 20, 19), ("b", 895, 20), ("c", 18, 650), ("d", 29, 1325), ("e", 1255, 1324)):
    note(x, y, t, 27, "Open Sans")

def blank(**kw):
    d = dict(visible=False, fixedrange=True)
    d.update(kw)
    return d

prism_y = dict(type="log", showgrid=False, zeroline=False, showline=True, linecolor="#000", linewidth=3, ticks="outside",
               ticklen=9, tickwidth=3, tickcolor="#000", tickfont=dict(size=26, family=SANS, color="#000", weight=700), anchor="x")
gg = dict(showgrid=False, zeroline=False, showline=True, mirror=True, linecolor="#808080", linewidth=1.6, ticks="outside",
          ticklen=3, tickwidth=1, tickcolor="#333", tickfont=dict(size=13, family=SANS, color="#000"))

fig.update_layout(
    width=W, height=H, autosize=False, margin=dict(l=0, r=0, t=0, b=0, pad=0), template="none",
    paper_bgcolor="#fff", plot_bgcolor="rgba(0,0,0,0)", showlegend=False, barmode="stack", hovermode=False,
    shapes=shapes, annotations=notes,
    # panel a
    xaxis=dict(domain=xd(129, 690), range=[(129 - 198) / 140.7, (690 - 198) / 140.7], anchor="y", tickmode="array",
               tickvals=[0, 1, 2, 3], ticktext=ALPHA_CATS, tickangle=-45, ticks="outside", ticklen=10, tickwidth=3, tickcolor="#000",
               showline=True, linecolor="#000", linewidth=3, showgrid=False, zeroline=False, ticklabelstandoff=-8,
               tickfont=dict(size=29, family=SANS, color="#000", weight=700, style="italic")),
    yaxis=dict(domain=yd(303, 409), range=[-1, 0], tickmode="array", tickvals=[0.1, 1], ticktext=["0.1", "1"], **prism_y),
    yaxis2=dict(domain=yd(169, 275), range=[np.log10(2), 1], tickmode="array", tickvals=[2, 10], ticktext=["2", "10"], **prism_y),
    yaxis3=dict(domain=yd(35, 141), range=[2, 3], tickmode="array", tickvals=[100, 1000], ticktext=["100", "1000"], **prism_y),
    # panel b
    xaxis2=dict(domain=xd(916, 1359), range=[-0.5503, 0.432], anchor="y4", tickmode="array", tickvals=[-.5, -.25, 0, .25],
                ticktext=["-0.50", "-0.25", "0.00", "0.25"], **gg),
    yaxis4=dict(domain=yd(83, 481), range=[-0.2745, 0.312], anchor="x2", tickmode="array", tickvals=[-.2, -.1, 0, .1, .2, .3],
                ticktext=["-0.2", "-0.1", "0.0", "0.1", "0.2", "0.3"], **gg),
    xaxis3=dict(domain=xd(1430, 1864.5), range=[-0.979, 0.986], anchor="y5", tickmode="array", tickvals=[-.5, 0, .5],
                ticktext=["-0.5", "0.0", "0.5"], **gg),
    yaxis5=dict(domain=yd(81.6, 480), range=[-0.475, 0.547], anchor="x3", tickmode="array", tickvals=[-.25, 0, .25, .5],
                ticktext=["-0.25", "0.00", "0.25", "0.50"], **gg),
    # panel c
    xaxis4=dict(domain=xd(79, 1540), range=[(79 - 143.9) / 21.87, (1540 - 143.9) / 21.87], anchor="y6", type="category",
                categoryorder="array", categoryarray=SAMPLES, tickmode="array", tickvals=SAMPLES, tickangle=-90, ticks="", showline=False,
                showgrid=False, zeroline=False, ticklabelstandoff=23, tickfont=dict(size=10.5, family=SANS, color="#222")),
    yaxis6=dict(domain=yd(685.3, 1187.3), range=[0, 100], anchor="x4", tickmode="array", tickvals=[0, 20, 40, 60, 80, 100], tickangle=-90,
                ticks="outside", ticklen=11, tickwidth=1.2, tickcolor="#333", showline=True, linecolor="#333", linewidth=1.2, showgrid=False,
                zeroline=False, tickfont=dict(size=13.5, family=SANS, color="#222")),
    # panel d
    xaxis5=blank(domain=xd(0, 1040), range=[-519, 521], anchor="y7"),
    yaxis7=blank(domain=yd(1440, 2390), range=[-478, 472], anchor="x5"),
    # panel e
    xaxis6=dict(domain=xd(1025, 1899.6), range=[-6, 6], anchor="y8", tickmode="array", tickvals=list(range(-6, 7)), ticks="outside", ticklen=7,
                tickwidth=1.6, tickcolor="#000", showline=False, showgrid=False, zeroline=False, tickfont=dict(size=20, family=DEJA, color="#000")),
    yaxis8=dict(domain=yd(1362, 2399), range=[34.07, -0.5], anchor="x6", type="category", categoryorder="array", categoryarray=LDA_NAMES,
                showticklabels=False, ticks="", showline=False, showgrid=False, zeroline=False),
)

fig.write_html("out.html", config={"displayModeBar": False},
               post_script="document.body.style.margin='0';document.body.style.padding='0';")
